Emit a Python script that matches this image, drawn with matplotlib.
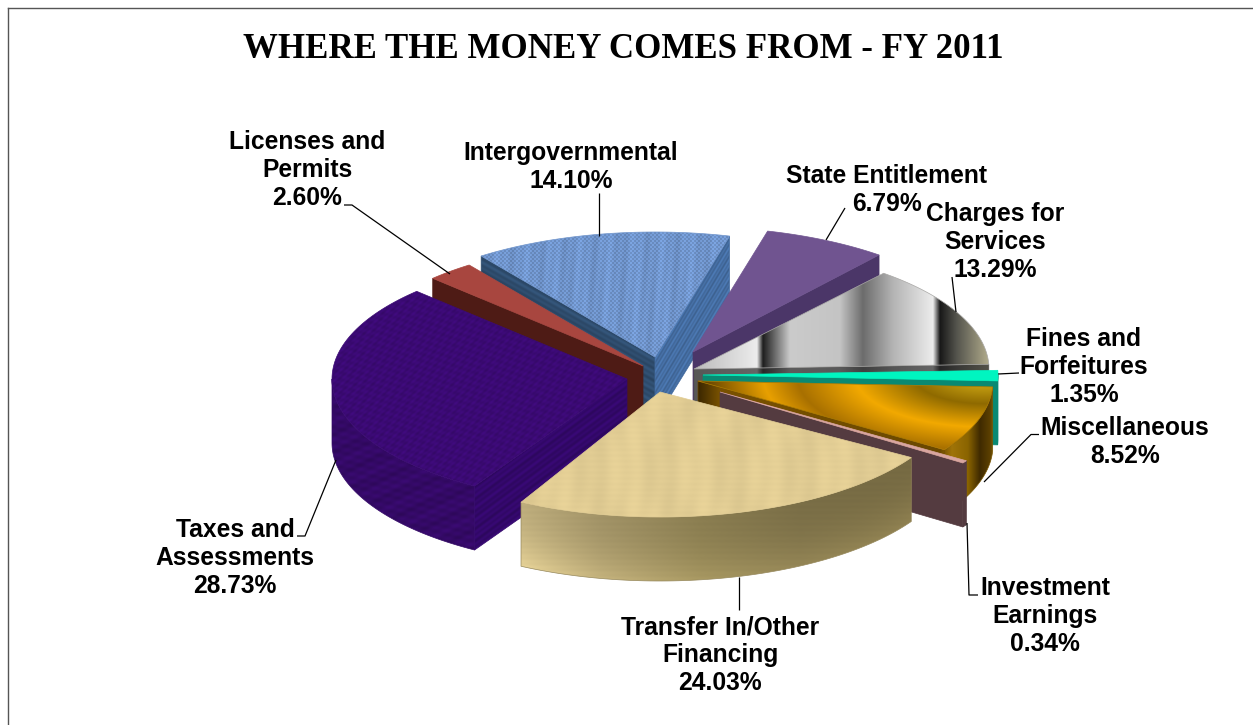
import numpy as np
import matplotlib
matplotlib.use("Agg")
import matplotlib.pyplot as plt
from matplotlib.colors import to_rgb
from matplotlib.patches import Polygon

W, H = 1253, 725

# revenue sources, clockwise from the upper right
categories = ["Charges for\nServices", "Fines and\nForfeitures", "Miscellaneous",
              "Investment\nEarnings", "Transfer In/Other\nFinancing", "Taxes and\nAssessments",
              "Licenses and\nPermits", "Intergovernmental", "State Entitlement"]
shares = [13.29, 1.35, 8.52, 0.34, 24.03, 28.73, 2.60, 14.10, 6.79]

# layout of the exploded pie, in figure pixels
start_angle = 50.0
rx, ry, depth = 295.0, 125.0, 64.0
apex = [(694, 369), (703, 375), (698, 381), (720, 392), (660, 392),
        (627, 379), (643, 366), (655, 357), (693, 352)]
rotate = [0, 0, 0, 0, 3, 0, 0, 0, 0]
draw_order = [7, 8, 0, 6, 5, 1, 2, 3, 4]

label_pos = [(995, 242), (1084, 367), (1125, 442), (1045, 616), (720, 655),
             (235, 558), (307, 170), (571, 167), (887, 190)]
leaders = [[(952, 277), (956, 312)],
           [(998, 374), (1019, 373)],
           [(984, 482), (1031, 434.5), (1039, 434.5)],
           [(967, 523), (969, 595), (978, 595)],
           [(739, 577), (739, 610)],
           [(297, 536), (305, 536), (336, 460)],
           [(344, 205), (352, 205), (450, 274)],
           [(599, 193), (599, 236)],
           [(845, 208), (826, 240)]]


def ramp(t, positions, colors):
    rgb = np.array([to_rgb(c) for c in colors])
    return np.dstack([np.interp(t, positions, rgb[:, i]) for i in range(3)])


def flat(color):
    rgb = np.array(to_rgb(color))
    return lambda X, Y: np.ones(X.shape + (3,)) * rgb


def striped(color, slope=0.0, period=6.0, amp=0.07):
    rgb = np.array(to_rgb(color))

    def fn(X, Y):
        v = np.sin((Y - slope * X) * 2 * np.pi / period)
        v = v + 0.7 * np.sin((Y - slope * X) * 2 * np.pi / (period * 2.3))
        return np.clip(rgb[None, None, :] * (1 + amp * v)[:, :, None], 0, 1)
    return fn


def denim(X, Y):
    rgb = np.array(to_rgb("#6e92c8"))
    weave = np.sin(X * np.pi / 2) * np.sin(Y * np.pi / 2)
    streak = np.sin(X * 0.23) * 0.03 + np.sin(X * 0.61 + Y * 0.05) * 0.03
    return np.clip(rgb[None, None, :] * (1.02 + 0.14 * weave + streak)[:, :, None], 0, 1)


def felt(X, Y):
    base = np.array(to_rgb("#3b0a74"))
    n = np.sin(X * 0.71 + Y * 0.37) + np.sin(X * 0.33 - Y * 0.93) + np.sin(X * 1.1 + Y * 1.3)
    return np.clip(base[None, None, :] * (1 + 0.035 * n)[:, :, None], 0, 1)


def felt_wall(X, Y):
    base = np.array(to_rgb("#370a6c"))
    n = np.sin(X * 0.37 + Y * 0.71) + np.sin(X * 0.23 - Y * 0.83) + np.sin(X * 0.11 + Y * 0.29)
    return np.clip(base[None, None, :] * (0.95 + 0.04 * n)[:, :, None], 0, 1)


def wood(X, Y):
    base = np.array(to_rgb("#e2cd94"))
    grain = (0.016 * np.sin(X * 0.09 + 2 * np.sin(Y * 0.03))
             + 0.012 * np.sin(X * 0.27 + np.sin(Y * 0.05))
             + 0.006 * np.sin(Y * 1.1))
    return np.clip(base[None, None, :] * (1 + grain)[:, :, None], 0, 1)


def wood_wall(cx, cy):
    def fn(X, Y):
        rgb = ramp(X, [523, 600, 700, 800, 917],
                   ["#cebc87", "#b0a070", "#978958", "#85784d", "#807348"])
        u = np.clip((X - cx) / rx, -1, 1)
        t = np.clip((Y - (cy + ry * np.sqrt(1 - u ** 2))) / depth, 0, 1)
        mult = 0.92 + 0.2 * t ** 2 + 0.008 * np.sin(Y * 1.1)
        return np.clip(rgb * mult[:, :, None], 0, 1)
    return fn


def chrome(X, Y):
    return ramp(X, [697, 757, 763, 790, 840, 863, 893, 933, 940, 957, 990],
                ["#bdbdbd", "#ececec", "#1e1e1e", "#cbcbcb", "#c4c4c4", "#6c6c6c",
                 "#b4b4b4", "#ececec", "#181818", "#55554e", "#b5af8e"])


def chrome_wall(X, Y):
    return 0.12 + 0.3 * chrome(X, Y)


def amber(X, Y):
    r = np.hypot(X - 985, (Y - 375) * 2.5)
    return ramp(r, [0, 30, 72, 130, 188, 222, 285, 300],
                ["#6f9f40", "#c09a10", "#8f6a00", "#f2a900", "#a87000",
                 "#e8a000", "#5a3c00", "#4a3000"])


def amber_wall(X, Y):
    return ramp(X, [698, 720, 940, 952, 968, 980, 990, 997],
                ["#3a2600", "#7a5200", "#6a4800", "#a07408", "#8a6400",
                 "#3f2a00", "#5c4000", "#a07a10"])


# top, outer wall, start cut wall and end cut wall per slice
top_fill = [chrome, flat("#00f5c0"), amber, flat("#d9a6a0"), wood, felt,
            flat("#a8463f"), denim, flat("#705590")]
outer_fill = [chrome_wall, flat("#0a8a72"), amber_wall, flat("#553b40"),
              wood_wall(apex[4][0], apex[4][1]), felt_wall,
              flat("#4e1b15"), striped("#456ea3"), flat("#4b3668")]
start_fill = [flat("#4f4f4f"), flat("#0a8a72"), flat("#3a2600"), flat("#553b40"),
              wood_wall(apex[4][0], apex[4][1]), striped("#33086a", slope=-0.74),
              flat("#4e1b15"), striped("#2f4d6e", slope=0.566), flat("#4b3668")]
end_fill = [chrome_wall, flat("#0a8a72"), amber_wall, flat("#553b40"),
            flat("#8a7c50"), striped("#33086a", slope=0.4),
            flat("#4e1b15"), striped("#456ea3", slope=-1.67), flat("#4b3668")]


def paint(ax, pts, fill, z):
    pts = np.asarray(pts, dtype=float)
    x0, y0 = np.floor(pts.min(axis=0)).astype(int) - 1
    x1, y1 = np.ceil(pts.max(axis=0)).astype(int) + 1
    X, Y = np.meshgrid(np.arange(x0, x1) + 0.5, np.arange(y0, y1) + 0.5)
    img = fill(X, Y)
    im = ax.imshow(img, extent=(x0, x1, y1, y0), zorder=z,
                   aspect="auto", interpolation="bilinear")
    im.set_clip_path(Polygon(pts, closed=True, transform=ax.transData))
    # image clipping leaves hard steps, a thin outline softens them
    ax.add_patch(Polygon(pts, closed=True, fill=False, lw=0.5, zorder=z,
                         edgecolor=img.reshape(-1, 3).mean(axis=0)))


def rim(cx, cy, a0, a1, n=80):
    t = np.radians(np.linspace(a0, a1, n))
    return np.column_stack([cx + rx * np.cos(t), cy - ry * np.sin(t)])


def faces_viewer(edge_angle, mid_angle):
    # a cut wall shows when the slice body lies above its edge on screen
    e, m = np.radians(edge_angle), np.radians(mid_angle)
    return np.sin(m) - np.cos(m) * np.tan(e) > 0


def draw_slice(ax, idx, a0, a1, z):
    cx, cy = apex[idx]
    a0, a1 = a0 + rotate[idx], a1 + rotate[idx]
    mid = (a0 + a1) / 2
    drop = np.array([0, depth])
    tip = np.array([cx, cy], dtype=float)
    arc = rim(cx, cy, a0, a1)
    # back edge of the rim is hidden, so the wall runs only along the near half
    lo, hi = max(a1, -180), min(a0, 0)
    if lo < hi:
        wall = rim(cx, cy, hi, lo)
        paint(ax, np.vstack([wall, wall[::-1] + drop]), outer_fill[idx], z)
    if faces_viewer(a0, mid):
        paint(ax, [tip, arc[0], arc[0] + drop, tip + drop], start_fill[idx], z + 0.1)
    if faces_viewer(a1, mid):
        paint(ax, [tip, arc[-1], arc[-1] + drop, tip + drop], end_fill[idx], z + 0.1)
    paint(ax, np.vstack([tip, arc]), top_fill[idx], z + 0.2)


fig = plt.figure(figsize=(W / 100, H / 100), dpi=100, facecolor="white")
ax = fig.add_axes([0, 0, 1, 1])

ends = start_angle - 3.6 * np.cumsum(shares)
starts = np.concatenate([[start_angle], ends[:-1]])
for order, i in enumerate(draw_order):
    draw_slice(ax, i, starts[i], ends[i], order + 2)

ax.set_xlim(0, W)
ax.set_ylim(H, 0)
ax.axis("off")

# outer frame on the top and left only
ax.plot([8, 8], [H, 7.5], color="#555555", lw=1.0, zorder=1)
ax.plot([8, W], [7.5, 7.5], color="#555555", lw=1.0, zorder=1)

for pts in leaders:
    xs, ys = zip(*pts)
    ax.plot(xs, ys, color="black", lw=0.9, zorder=20, solid_capstyle="butt")

for name, share, (lx, ly) in zip(categories, shares, label_pos):
    ax.text(lx, ly, f"{name}\n{share:.2f}%", ha="center", va="center", ma="center",
            fontsize=17.7, fontweight="bold", family="Liberation Sans",
            linespacing=1.21, color="black", zorder=21)

ax.text(623.5, 49, "WHERE THE MONEY COMES FROM - FY 2011", ha="center", va="center",
        fontsize=25.1, fontweight="bold", family="Liberation Serif", color="black", zorder=21)

fig.savefig("out.png", dpi=100, facecolor="white")
